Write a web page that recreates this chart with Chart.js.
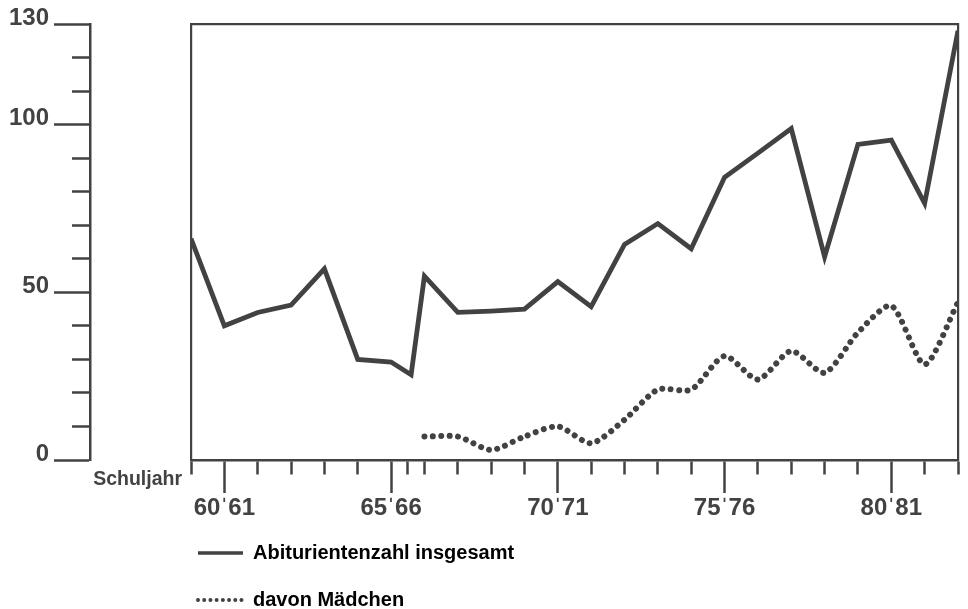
<!DOCTYPE html>
<html>
<head>
<meta charset="utf-8">
<script src="https://cdn.jsdelivr.net/npm/chart.js@4.4.1/dist/chart.umd.min.js"></script>
<style>
html,body{margin:0;padding:0;background:#ffffff;}
#wrap{width:968px;height:609px;position:relative;}
</style>
</head>
<body>
<div id="wrap"><canvas id="c"></canvas></div>
<script>
// ---- data ----
const schoolYears = [59, 60, 61, 62, 63, 64, 65, 65.6, 66, 67, 68, 69, 70, 71, 72, 73, 74, 75, 76, 77, 78, 79, 80, 81, 82];
const totalValues = [66, 40, 44, 46.2, 57, 30, 29.2, 25.4, 54.8, 44, 44.4, 45, 53.2, 45.7, 64.3, 70.5, 63, 84.3, 91.5, 98.8, 60.6, 94.1, 95.4, 76.5, 128];
const girlsYears = [66, 67, 68, 69, 70, 71, 72, 73, 74, 75, 76, 77, 78, 79, 80, 81, 82];
const girlsValues = [7, 7, 3, 7, 10, 5, 12, 21, 21, 31, 24, 32.5, 26, 38, 46, 28.5, 47];
const xTickValues = [59, 60, 61, 62, 63, 64, 65, 65.5, 66, 67, 68, 69, 70, 71, 72, 73, 74, 75, 76, 77, 78, 79, 80, 81, 82];
const xMajorYears = [60, 65, 70, 75, 80];
const yLabelValues = [0, 50, 100, 130];
const seriesLabels = ['Abiturientenzahl insgesamt', 'davon Mädchen'];
const axisCaptionText = 'Schuljahr';

// ---- style ----
const ink = '#424242';
const fontFamily = "'Liberation Sans', Arial, Helvetica, sans-serif";
Chart.defaults.font.family = fontFamily;
Chart.defaults.font.weight = 'bold';
Chart.defaults.color = ink;

const legendPlacer = {
  id: 'legendPlacer',
  afterLayout(chart) {
    const lg = chart.legend;
    if (!lg) return;
    lg.left = 171; lg.top = 516; lg.right = 700; lg.bottom = 900;
    lg.width = lg.right - lg.left; lg.height = lg.bottom - lg.top;
  }
};

const axisCaption = {
  id: 'axisCaption',
  afterDraw(chart) {
    const {ctx, chartArea} = chart;
    ctx.save();
    ctx.font = 'bold 19.5px ' + fontFamily;
    ctx.fillStyle = ink;
    ctx.textAlign = 'right';
    ctx.textBaseline = 'middle';
    ctx.fillText(axisCaptionText, chartArea.left - 9, chartArea.bottom + 20);
    ctx.restore();
  }
};

const isMajorX = c => c.tick && xMajorYears.includes(c.tick.value);
const isMajorY = c => c.tick && yLabelValues.includes(c.tick.value);

new Chart(document.getElementById('c'), {
  type: 'line',
  data: {
    datasets: [
      {
        label: seriesLabels[0],
        data: schoolYears.map((x, i) => ({x, y: totalValues[i]})),
        borderColor: ink,
        borderWidth: 4.8,
        pointRadius: 0,
        tension: 0,
        borderJoinStyle: 'miter',
        xAxisID: 'x', yAxisID: 'y'
      },
      {
        label: seriesLabels[1],
        data: girlsYears.map((x, i) => ({x, y: girlsValues[i]})),
        borderColor: ink,
        borderWidth: 6,
        borderDash: [0.01, 8.4],
        borderCapStyle: 'round',
        pointRadius: 0,
        tension: 0.25,
        xAxisID: 'x', yAxisID: 'y'
      }
    ]
  },
  options: {
    responsive: true,
    maintainAspectRatio: false,
    animation: false,
    layout: {padding: 0},
    plugins: {
      tooltip: {enabled: false},
      legend: {
        position: 'left',
        maxWidth: 1,
        align: 'start',
        labels: {
          usePointStyle: true,
          pointStyleWidth: 45,
          padding: 27,
          color: ink,
          font: {size: 20, weight: 'bold', family: fontFamily},
          generateLabels(chart) {
            return chart.data.datasets.map((ds, i) => ({
              text: ds.label,
              fillStyle: 'rgba(0,0,0,0)',
              strokeStyle: ink,
              lineWidth: i === 0 ? 3.5 : 4,
              lineDash: i === 0 ? [] : [0.01, 6.2],
              lineCap: i === 0 ? 'butt' : 'round',
              pointStyle: 'line',
              rotation: 0,
              hidden: false,
              datasetIndex: i
            }));
          }
        }
      }
    },
    scales: {
      x: {
        type: 'linear',
        position: 'bottom',
        min: 59, max: 82,
        afterBuildTicks: s => { s.ticks = xTickValues.slice().sort((a, b) => a - b).map(v => ({value: v})); },
        afterFit: s => { s.height = 149; },
        ticks: {
          autoSkip: false,
          maxRotation: 0,
          padding: 1,
          color: ink,
          font: {size: 24, weight: 'bold'},
          callback: v => xMajorYears.includes(v) ? (v + '\u02C8' + (v + 1)) : ''
        },
        grid: {
          drawOnChartArea: false,
          drawTicks: true,
          tickLength: 33,
          tickWidth: 2.5,
          tickColor: ink,
          tickBorderDash: c => isMajorX(c) ? [] : [13, 60]
        },
        border: {display: true, color: ink, width: 2.5}
      },
      xTop: {
        type: 'linear',
        position: 'top',
        min: 59, max: 82,
        afterFit: s => { s.height = 24; },
        ticks: {display: false},
        grid: {drawOnChartArea: false, drawTicks: false},
        border: {display: true, color: ink, width: 2.2}
      },
      y: {
        type: 'linear',
        position: 'left',
        weight: 0,
        min: 0, max: 130,
        afterFit: s => { s.width = 101; },
        ticks: {display: false},
        grid: {drawOnChartArea: false, drawTicks: false},
        border: {display: true, color: ink, width: 2.2}
      },
      yAxis: {
        type: 'linear',
        position: 'left',
        weight: 1,
        min: 0, max: 130,
        afterFit: s => { s.width = 89; },
        ticks: {
          stepSize: 10,
          padding: 5,
          labelOffset: -6,
          color: ink,
          font: {size: 24, weight: 'bold'},
          callback: v => yLabelValues.includes(v) ? String(v) : ''
        },
        grid: {
          drawOnChartArea: false,
          drawTicks: true,
          tickLength: 36,
          tickWidth: 2.5,
          tickColor: ink,
          tickBorderDash: c => isMajorY(c) ? [] : [17, 18],
          tickBorderDashOffset: c => isMajorY(c) ? 0 : 17
        },
        border: {display: true, color: ink, width: 2.5}
      },
      yRight: {
        type: 'linear',
        position: 'right',
        min: 0, max: 130,
        afterFit: s => { s.width = 10; },
        ticks: {display: false},
        grid: {drawOnChartArea: false, drawTicks: false},
        border: {display: true, color: ink, width: 2.2}
      }
    }
  },
  plugins: [legendPlacer, axisCaption]
});
</script>
</body>
</html>
